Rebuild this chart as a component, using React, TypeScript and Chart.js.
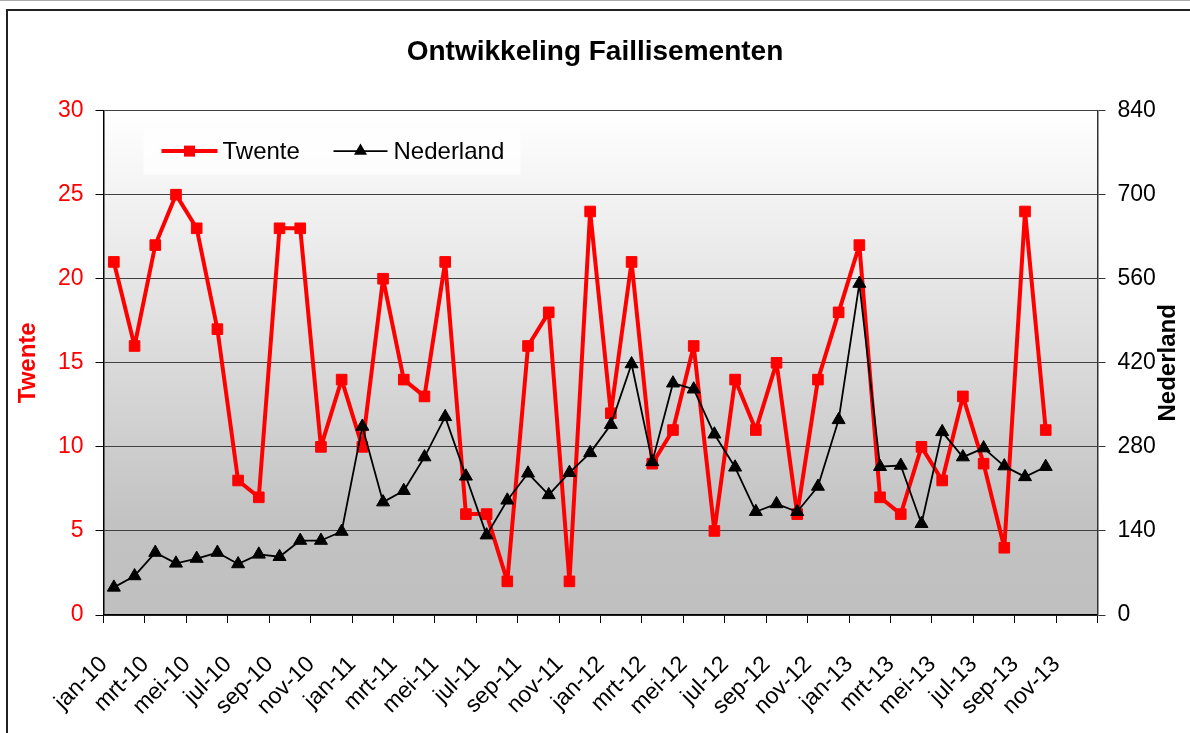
import React, { useEffect, useRef } from 'react';
import { Chart, registerables } from 'chart.js';

Chart.register(...registerables);

const months: string[] = [
  'jan-10', 'feb-10', 'mrt-10', 'apr-10', 'mei-10', 'jun-10', 'jul-10', 'aug-10', 'sep-10', 'okt-10', 'nov-10', 'dec-10',
  'jan-11', 'feb-11', 'mrt-11', 'apr-11', 'mei-11', 'jun-11', 'jul-11', 'aug-11', 'sep-11', 'okt-11', 'nov-11', 'dec-11',
  'jan-12', 'feb-12', 'mrt-12', 'apr-12', 'mei-12', 'jun-12', 'jul-12', 'aug-12', 'sep-12', 'okt-12', 'nov-12', 'dec-12',
  'jan-13', 'feb-13', 'mrt-13', 'apr-13', 'mei-13', 'jun-13', 'jul-13', 'aug-13', 'sep-13', 'okt-13', 'nov-13', 'dec-13',
];

const twente: number[] = [
  21, 16, 22, 25, 23, 17, 8, 7, 23, 23,
  10, 14, 10, 20, 14, 13, 21, 6, 6, 2,
  16, 18, 2, 24, 12, 21, 9, 11, 16, 5,
  14, 11, 15, 6, 14, 18, 22, 7, 6, 10,
  8, 13, 9, 4, 24, 11,
];

const nederland: number[] = [
  46, 65, 104, 86, 94, 104, 85, 101, 97, 124,
  124, 139, 314, 188, 207, 263, 330, 231, 133, 191,
  236, 200, 237, 270, 317, 418, 255, 386, 376, 301,
  246, 172, 185, 172, 214, 325, 552, 247, 249, 152,
  305, 263, 278, 248, 230, 247,
];

const leftAxis = { min: 0, max: 30, step: 5 };
const rightAxis = { min: 0, max: 840, step: 140 };

const chartTitle = 'Ontwikkeling Faillisementen';
const leftTitle = 'Twente';
const rightTitle = 'Nederland';

const FONT = '"Liberation Sans", Arial, Helvetica, sans-serif';
const RED = '#ff0000';

const backgroundPlugin = {
  id: 'plotBackground',
  beforeDraw(chart: any) {
    const { ctx, chartArea: a } = chart;
    if (!a) return;
    const g = ctx.createLinearGradient(0, a.top, 0, a.bottom);
    g.addColorStop(0, '#ffffff');
    g.addColorStop(0.82, '#c2c2c2');
    g.addColorStop(1, '#c0c0c0');
    ctx.save();
    ctx.fillStyle = g;
    ctx.fillRect(a.left, a.top, a.right - a.left, a.bottom - a.top);
    ctx.restore();
  },
};

const overlayPlugin = {
  id: 'overlay',
  afterDraw(chart: any) {
    const { ctx, chartArea: a } = chart;
    if (!a) return;
    ctx.save();
    // axis titles
    const midY = (a.top + a.bottom) / 2;
    ctx.font = `bold 24px ${FONT}`;
    ctx.textAlign = 'center';
    ctx.textBaseline = 'middle';
    ctx.fillStyle = RED;
    ctx.save();
    ctx.translate(28, midY);
    ctx.rotate(-Math.PI / 2);
    ctx.fillText(leftTitle, 0, 0);
    ctx.restore();
    ctx.fillStyle = '#000';
    ctx.save();
    ctx.translate(chart.width - 22, midY);
    ctx.rotate(-Math.PI / 2);
    ctx.fillText(rightTitle, 0, 0);
    ctx.restore();

    // legend
    const bx = a.left + 40;
    const by = a.top + 17;
    const bw = 377;
    const bh = 47;
    ctx.fillStyle = 'rgba(255,255,255,0.75)';
    ctx.fillRect(bx, by, bw, bh);
    const cy = by + bh / 2;
    // Twente
    ctx.strokeStyle = RED;
    ctx.lineWidth = 4;
    ctx.beginPath();
    ctx.moveTo(bx + 18, cy);
    ctx.lineTo(bx + 74, cy);
    ctx.stroke();
    ctx.fillStyle = RED;
    ctx.fillRect(bx + 46 - 5.5, cy - 5.5, 11, 11);
    ctx.fillStyle = '#000';
    ctx.font = `24px ${FONT}`;
    ctx.textAlign = 'left';
    ctx.textBaseline = 'middle';
    ctx.fillText(chart.data.datasets[0].label, bx + 79, cy + 1);
    // Nederland
    ctx.strokeStyle = '#000';
    ctx.lineWidth = 1.8;
    ctx.beginPath();
    ctx.moveTo(bx + 190, cy);
    ctx.lineTo(bx + 244, cy);
    ctx.stroke();
    const tx = bx + 217;
    const r = 7.5;
    ctx.beginPath();
    ctx.moveTo(tx, cy - r);
    ctx.lineTo(tx + r * 0.866, cy + r / 2);
    ctx.lineTo(tx - r * 0.866, cy + r / 2);
    ctx.closePath();
    ctx.fill();
    ctx.fillText(chart.data.datasets[1].label, bx + 250, cy + 1);
    ctx.restore();
  },
};

export default function App() {
  const canvasRef = useRef<HTMLCanvasElement | null>(null);

  useEffect(() => {
    const canvas = canvasRef.current;
    if (!canvas) return;
    const chart = new Chart(canvas, {
      type: 'line',
      data: {
        labels: months,
        datasets: [
          {
            label: 'Twente',
            data: twente,
            yAxisID: 'y',
            borderColor: RED,
            backgroundColor: RED,
            borderWidth: 4,
            borderJoinStyle: 'round',
            pointStyle: 'rect',
            pointRadius: 7.5,
            pointBorderWidth: 1,
            pointBorderColor: RED,
            pointBackgroundColor: RED,
            tension: 0,
            order: 2,
          },
          {
            label: 'Nederland',
            data: nederland,
            yAxisID: 'y1',
            borderColor: '#000',
            backgroundColor: '#000',
            borderWidth: 1.8,
            borderJoinStyle: 'round',
            pointStyle: 'triangle',
            pointRadius: 7.5,
            pointBorderWidth: 1,
            pointBorderColor: '#000',
            pointBackgroundColor: '#000',
            tension: 0,
            order: 1,
          },
        ],
      },
      options: {
        responsive: false,
        animation: false,
        devicePixelRatio: 1,
        layout: { padding: 0 },
        font: { family: FONT },
        plugins: {
          legend: { display: false },
          tooltip: { enabled: false },
          title: {
            display: true,
            text: chartTitle,
            color: '#000',
            font: { family: FONT, size: 28, weight: 'bold' },
            padding: { top: 35, bottom: 42 },
          },
        },
        scales: {
          x: {
            type: 'category',
            offset: true,
            grid: {
              display: true,
              offset: true,
              drawOnChartArea: false,
              drawTicks: true,
              tickLength: 8,
              color: (c: any) => (c.index === undefined || c.index % 2 === 0 ? '#000' : 'rgba(0,0,0,0)'),
            },
            border: { display: true, color: '#000', width: 1.5 },
            ticks: {
              autoSkip: false,
              minRotation: 45,
              maxRotation: 45,
              padding: 28,
              labelOffset: -10,
              color: '#000',
              font: { family: FONT, size: 23 },
              callback: (_v: any, i: number) => (i % 2 === 0 ? months[i] : ''),
            },
            afterFit: (s: any) => {
              s.height = 118;
            },
          },
          y: {
            position: 'left',
            min: leftAxis.min,
            max: leftAxis.max,
            ticks: {
              stepSize: leftAxis.step,
              color: RED,
              padding: 12,
              font: { family: FONT, size: 23 },
            },
            grid: {
              color: '#404040',
              lineWidth: 1,
              tickLength: 8,
              tickColor: '#000',
            },
            border: { display: true, color: '#000', width: 1.5 },
            afterFit: (s: any) => {
              s.width = 103.5;
            },
          },
          y1: {
            position: 'right',
            min: rightAxis.min,
            max: rightAxis.max,
            ticks: {
              stepSize: rightAxis.step,
              color: '#000',
              padding: 12,
              font: { family: FONT, size: 23 },
            },
            grid: {
              drawOnChartArea: false,
              tickLength: 8,
              color: '#333',
            },
            border: { display: true, color: '#333', width: 1.5 },
            afterFit: (s: any) => {
              s.width = 92.5;
            },
          },
        },
      },
      plugins: [backgroundPlugin, overlayPlugin],
    });
    return () => chart.destroy();
  }, []);

  return (
    <div style={{ position: 'fixed', left: 0, top: 0, width: 1190, height: 733, background: '#fff', overflow: 'hidden' }}>
      <div style={{ position: 'absolute', left: 0, top: 0, width: 1190, height: 1, background: '#aaa' }} />
      <div
        style={{
          position: 'absolute',
          left: 6,
          top: 9,
          width: 1300,
          height: 800,
          borderLeft: '2px solid #222',
          borderTop: '2px solid #222',
        }}
      />
      <canvas ref={canvasRef} width={1190} height={733} style={{ position: 'absolute', left: 0, top: 0, width: 1190, height: 733 }} />
    </div>
  );
}
